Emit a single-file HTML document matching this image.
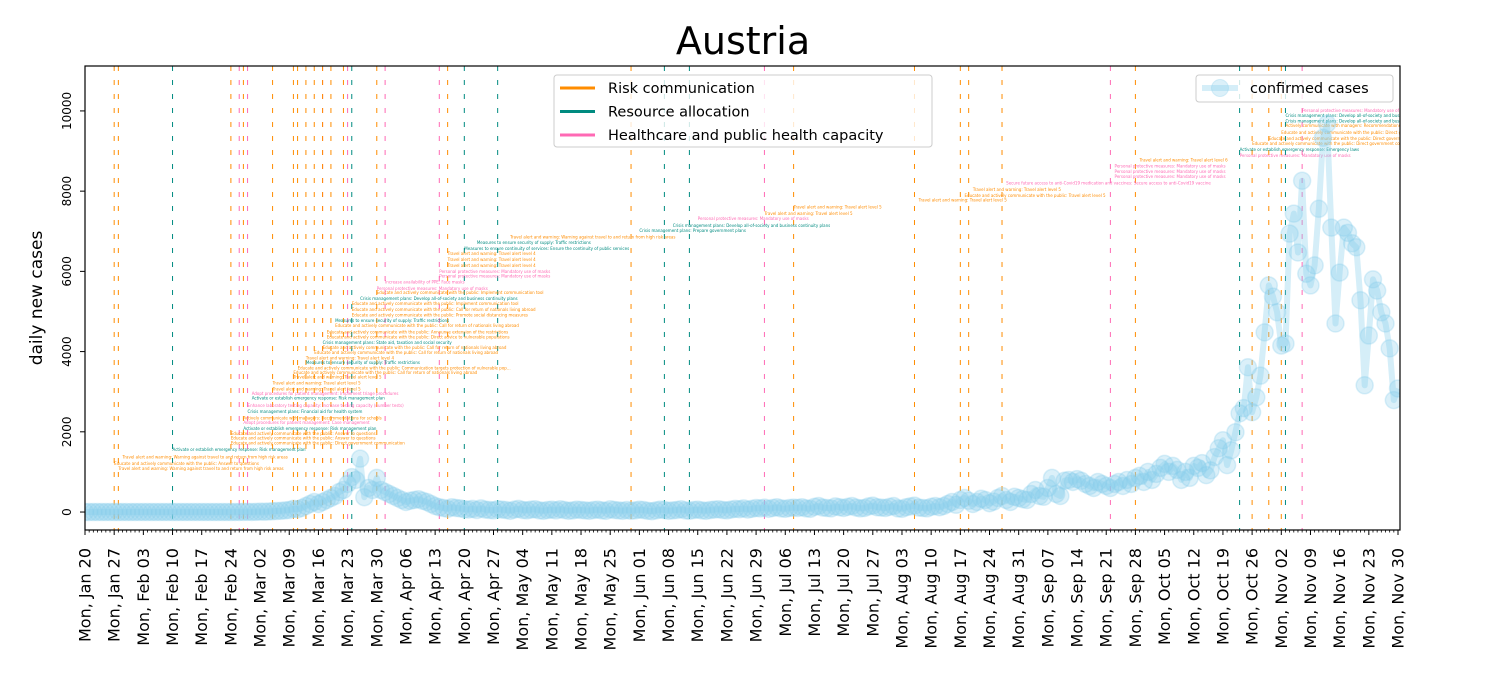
<!DOCTYPE html>
<html><head><meta charset="utf-8"><style>
html,body{margin:0;padding:0;background:#fff;}
svg{display:block;font-family:"DejaVu Sans","Liberation Sans",sans-serif;}
</style></head><body>
<svg id="chart" width="1500" height="675" viewBox="0 0 1500 675" xmlns="http://www.w3.org/2000/svg">
<defs><clipPath id="plotclip"><rect x="85" y="66" width="1315" height="464"/></clipPath></defs>
<text x="743" y="54" font-size="38" text-anchor="middle" fill="#000">Austria</text>
<text transform="translate(42,298) rotate(-90)" font-size="17" text-anchor="middle" fill="#000">daily new cases</text>
<g id="events" clip-path="url(#plotclip)"></g>
<g id="annots" clip-path="url(#plotclip)"></g>
<g id="series" clip-path="url(#plotclip)"></g>
<g id="axes"></g>
<g id="legends"></g>
</svg>
<script>
const NS="http://www.w3.org/2000/svg";
const startDate=new Date(2020,0,20);
const numDays=316;
const yMin=-448, yMax=11120;
const yTicks=[0,2000,4000,6000,8000,10000];
// daily confirmed cases from Jan 20
const early=new Array(36).fill(0);
const febMar=[2,1,3,5,2,5,10,8,12,18,25,30,40,50,80,70,100,150,200,250];
const marApr=[200,250,300,350,400,500,550,700,870,800,1330,370,600,550,850,550,500,450,400,350];
const april=[300,250,280,300,320,280,250,200,150,120,100,80,120,100,90];
const aprMay=[70,60,80,50,90,60,50,40,70,60,50,30,60,80,50,40,60,70,40,30,50,60,40,70,50,30,40,60,50,40,30,50,60,40,30,70,50,40,30,50];
const mayJul=[30,40,60,50,30,20,40,60,50,30,40,50,70,40,30,50,60,40,30,50,60,70,50,40,60,80,70,90,60,80,100,90,110,80,100,120,90,80,100,110];
const julAug=[100,120,90,80,130,150,110,100,90,140,120,100,130,150,110,90,100,140,160,120,110,100,130,150,90,80,120,140,160,110,100,90,130,150,120];
const augSep=[150,200,250,180,300,350,280,200,250,330,300,220,260,350,400,300,250,380,350,320];
const sep=[300,450,550,400,380,600,850,450,400,780,800,750,820,780,700,650,600,750,700,650];
const sepOct=[600,700,750,650,800,700,850,900,750,1000,800,950,1100,1200,1000,1150,1050];
const octNov=[800,1000,850,1150,1100,1220,920,1040,1370,1590,1790,1170,1540,1990,2460,2590,3610,2490,2860,3400,4480,5650,5370,4980,4150,4200,6940,7440,6470,8260,5940,5650,6150,7560,9330,9680,7090,4700,5970,7090,6960,6700,6600,5280,3160,4400,5800,5520,4980,4700,4080,2790,3080];
const cases=[].concat(early,febMar,marApr,april,aprMay,mayJul,julAug,augSep,sep,sepOct,octNov);
// event lines: day index, category
const eventDays=[7,8,21,35,37,38,39,45,50,51,53,55,57,57,59,62,63,64,70,72,85,87,91,99,131,139,145,163,170,199,210,212,220,246,252,277,280,284,287,288,292];
const eventCats=["r","r","a","r","p","r","p","r","r","r","r","r","p","r","r","r","p","a","r","p","p","r","a","a","r","a","a","p","r","r","r","r","r","p","r","a","r","r","r","a","p"];
const catColor={r:"#ff8c00",a:"#008b80",p:"#ff69b4"};
// annotations: day, value, category, text
const annDays=[8,7,9,21,35,35,35,38,38,38,39,39,40,40,45,45,50,50,51,53,53,55,57,57,58,58,60,60,64,64,64,66,70,70,72,85,85,87,87,87,91,94,102,133,141,147,163,170,200,211,213,221,247,247,247,253,277,277,280,284,287,288,288,288,292];
const annVals=[1045,1176,1336,1524,1683,1805,1918,2050,2200,2313,2472,2613,2801,2913,3036,3176,3327,3439,3552,3693,3806,3946,4068,4191,4322,4453,4613,4735,4876,5017,5157,5289,5430,5533,5693,5853,5965,6115,6256,6407,6538,6679,6820,6979,7111,7280,7411,7562,7740,7853,8003,8163,8322,8454,8595,8736,8857,8998,9148,9280,9430,9599,9712,9843,9975];
const annCats=["r","r","r","a","r","r","r","a","p","r","a","p","a","p","r","r","r","r","r","a","r","r","r","a","r","r","r","a","r","r","r","a","r","p","p","p","p","r","r","r","a","a","r","a","a","p","r","r","r","r","r","p","p","p","p","r","p","a","r","r","r","r","a","a","p"];
const annTexts=["Travel alert and warning: Warning against travel to and return from high risk areas","Educate and actively communicate with the public: Answer to questions","Travel alert and warning: Warning against travel to and return from high risk areas","Activate or establish emergency response: Risk management plan","Educate and actively communicate with the public: Direct government communication","Educate and actively communicate with the public: Answer to questions","Educate and actively communicate with the public: Answer to questions","Activate or establish emergency response: Risk management plan","Adopt procedures for patient management: Case management","Actively communicate with managers: Recommendations for schools","Crisis management plans: Financial aid for health system","Enhance laboratory testing capacity: Increase testing capacity (number tests)","Activate or establish emergency response: Risk management plan","Adopt procedures for patient management: Implement triage procedures","Travel alert and warning: Travel alert level 5","Travel alert and warning: Travel alert level 5","Travel alert and warning: Travel alert level 5","Educate and actively communicate with the public: Call for return of nationals living abroad","Educate and actively communicate with the public: Communication targets protection of vulnerable pop...","Measures to ensure security of supply: Traffic restrictions","Travel alert and warning: Travel alert level 4","Educate and actively communicate with the public: Call for return of nationals living abroad","Educate and actively communicate with the public: Call for return of nationals living abroad","Crisis management plans: State aid, taxation and social security","Educate and actively communicate with the public: Direct advice to vulnerable populations","Educate and actively communicate with the public: Announce extension of the restrictions","Educate and actively communicate with the public: Call for return of nationals living abroad","Measures to ensure security of supply: Traffic restrictions","Educate and actively communicate with the public: Promote social distancing measures","Educate and actively communicate with the public: Call for return of nationals living abroad","Educate and actively communicate with the public: Implement communication tool","Crisis management plans: Develop all-of-society and business continuity plans","Educate and actively communicate with the public: Implement communication tool","Personal protective measures: Mandatory use of masks","Increase availability of PPE: Face masks","Personal protective measures: Mandatory use of masks","Personal protective measures: Mandatory use of masks","Travel alert and warning: Travel alert level 4","Travel alert and warning: Travel alert level 4","Travel alert and warning: Travel alert level 4","Measures to ensure continuity of services: Ensure the continuity of public services","Measures to ensure security of supply: Traffic restrictions","Travel alert and warning: Warning against travel to and return from high risk areas","Crisis management plans: Prepare government plans","Crisis management plans: Develop all-of-society and business continuity plans","Personal protective measures: Mandatory use of masks","Travel alert and warning: Travel alert level 5","Travel alert and warning: Travel alert level 5","Travel alert and warning: Travel alert level 5","Educate and actively communicate with the public: Travel alert level 5","Travel alert and warning: Travel alert level 5","Secure future access to anti-Covid19 medication and vaccines: Secure access to anti-Covid19 vaccine","Personal protective measures: Mandatory use of masks","Personal protective measures: Mandatory use of masks","Personal protective measures: Mandatory use of masks","Travel alert and warning: Travel alert level 6","Personal protective measures: Mandatory use of masks","Activate or establish emergency response: Emergency laws","Educate and actively communicate with the public: Direct government communication","Educate and actively communicate with the public: Direct government communication","Educate and actively communicate with the public: Direct government communication","Actively communicate with managers: Recommendations for work safety protocols","Crisis management plans: Develop all-of-society and business continuity plans","Crisis management plans: Develop all-of-society and business continuity plans","Personal protective measures: Mandatory use of masks"];
const x0=85,x1=1400,y0=530,y1=66;
const X=d=>x0+(d)*(1313/315);
const Y=v=>y0-(v-yMin)/(yMax-yMin)*(y0-y1);
function mk(tag,attrs,parent){const e=document.createElementNS(NS,tag);for(const k in attrs)e.setAttribute(k,attrs[k]);parent.appendChild(e);return e;}
const ev=document.getElementById('events');
eventDays.forEach((d,i)=>{
 const l=mk('line',{x1:X(d),x2:X(d),y1:y1,y2:y0,stroke:catColor[eventCats[i]],'stroke-width':1,'stroke-dasharray':'5,9'},ev);
 
 
});
const an=document.getElementById('annots');
annDays.forEach((d,i)=>{
 const t=mk('text',{x:X(d),y:Y(annVals[i]),'font-size':4,fill:catColor[annCats[i]]},an);
 t.textContent=annTexts[i];
 
 
});
const sg=document.getElementById('series');
let pts=cases.map((v,i)=>X(i).toFixed(1)+','+Y(v).toFixed(1)).join(' ');
const pl=mk('polyline',{points:pts,fill:'none',stroke:'#87ceeb','stroke-opacity':0.35,'stroke-width':6,'stroke-linejoin':'round'},sg);


cases.forEach((v,i)=>{
 const c=mk('circle',{cx:X(i),cy:Y(v),r:8.5,fill:'#87ceeb','fill-opacity':0.3,stroke:'#87ceeb','stroke-opacity':0.3,'stroke-width':1.5},sg);
 
 
});
const ax=document.getElementById('axes');
const fr=mk('rect',{x:x0,y:y1,width:x1-x0,height:y0-y1,fill:'none',stroke:'#000','stroke-width':1.2},ax);


yTicks.forEach(v=>{
 mk('line',{x1:x0-5,x2:x0,y1:Y(v),y2:Y(v),stroke:'#000'},ax);
 const t=mk('text',{transform:`translate(${x0-14},${Y(v)}) rotate(-90)`,'font-size':12,'text-anchor':'middle',fill:'#000'},ax);
 t.textContent=v;
 
 
});
const mon=["Jan","Feb","Mar","Apr","May","Jun","Jul","Aug","Sep","Oct","Nov","Dec"];
for(let d=0;d<numDays;d++){
 const major=d%7===0;
 mk('line',{x1:X(d),x2:X(d),y1:y0,y2:y0+(major?5:2.5),stroke:'#000','stroke-width':major?1:0.8},ax);
 if(major){
  const dt=new Date(startDate.getTime()+d*86400000);
  const t=mk('text',{transform:`translate(${X(d)+5.5},${y0+18}) rotate(-90)`,'font-size':16,'text-anchor':'end',fill:'#000'},ax);
  t.textContent='Mon, '+mon[dt.getMonth()]+' '+String(dt.getDate()).padStart(2,'0');
  
  
 }
}
const lg=document.getElementById('legends');
const b1=mk('rect',{x:554,y:75,width:378,height:72,rx:3,fill:'#fff','fill-opacity':0.8,stroke:'#ccc'},lg);


[["Risk communication","r"],["Resource allocation","a"],["Healthcare and public health capacity","p"]].forEach((e,i)=>{
 const y=88+i*23.5;
 mk('line',{x1:560,x2:595,y1:y,y2:y,stroke:catColor[e[1]],'stroke-width':3},lg);
 const t=mk('text',{x:608,y:y+5,'font-size':14.5,fill:'#000'},lg);
 t.textContent=e[0];
 
 
});
const b2=mk('rect',{x:1196,y:75,width:197,height:27,rx:3,fill:'#fff','fill-opacity':0.8,stroke:'#ccc'},lg);


mk('line',{x1:1202,x2:1238,y1:88,y2:88,stroke:'#87ceeb','stroke-opacity':0.35,'stroke-width':6},lg);
mk('circle',{cx:1220,cy:88,r:8.5,fill:'#87ceeb','fill-opacity':0.3,stroke:'#87ceeb','stroke-opacity':0.3},lg);
const t2=mk('text',{x:1250,y:93,'font-size':14.5,fill:'#000'},lg);
t2.textContent='confirmed cases';


</script>
</body></html>
